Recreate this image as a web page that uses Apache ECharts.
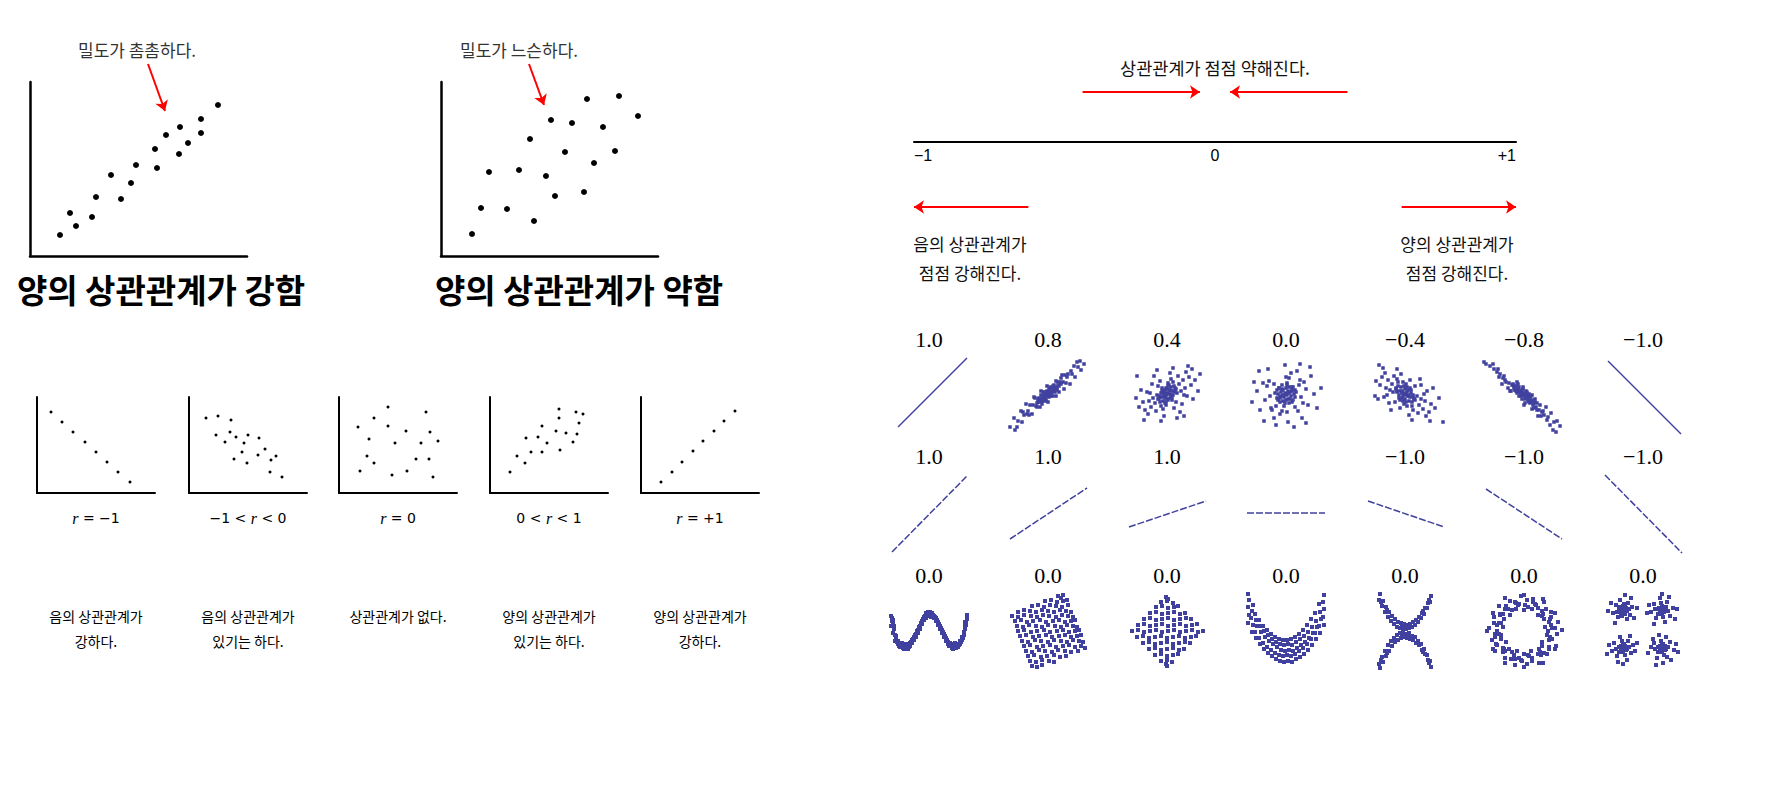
<!DOCTYPE html>
<html><head><meta charset="utf-8">
<script src="https://cdn.jsdelivr.net/npm/echarts@6/dist/echarts.min.js"></script>
<style>html,body{margin:0;padding:0;background:#fff}#c{width:1787px;height:800px}</style>
</head><body><div id="c"></div>
<script>
// ---------- DATA (arbitrary units) ----------
// top-left panels
const strongPoints = [[30,21],[40,43],[46,30],[62,39],[66,59],[81,81],[91,57],[101,73],[106,91],[125,107],[127,88],[136,121],[149,102],[150,129],[158,113],[171,137],[171,123],[188,151]];
const weakPoints = [[31,22],[40,48],[48,84],[66,47],[78,86],[89,117],[93,35],[105,80],[110,136],[114,60],[124,104],[131,133],[143,64],[146,157],[153,93],[162,129],[174,105],[178,160],[197,140]];
const densityArrows = [[[118,192],[135,145]], [[88,192],[103,151]]];
const densityNotes = ['밀도가 촘촘하다.', '밀도가 느슨하다.'];
const bigTitles = ['양의 상관관계가 강함', '양의 상관관계가 약함'];

// five small panels
const negPerfect = [[14,81],[25,71],[36,61],[48,51],[59,41],[70,31],[81,21],[93,11]];
const negPartial = [[17,75],[29,77],[42,73],[27,58],[36,51],[41,61],[47,56],[55,50],[59,58],[70,55],[53,41],[45,34],[58,30],[69,38],[76,44],[82,33],[87,37],[81,21],[93,16]];
const noCorr = [[49,86],[87,81],[35,75],[19,66],[49,67],[67,62],[91,61],[30,54],[56,50],[82,50],[99,52],[28,37],[35,30],[77,34],[90,34],[21,22],[53,18],[68,22],[94,16]];
const posPartial = [[20,21],[27,37],[35,30],[36,55],[41,41],[48,56],[52,67],[52,41],[57,50],[66,62],[69,84],[69,75],[70,43],[76,60],[83,51],[86,81],[89,70],[87,59],[93,79]];
const posPerfect = [[20,11],[31,21],[41,31],[52,42],[62,52],[73,62],[83,72],[94,82]];
const smallLabels = ['{i|r} = −1', '−1 < {i|r} < 0', '{i|r} = 0', '0 < {i|r} < 1', '{i|r} = +1'];
const smallNotes = [['음의 상관관계가','강하다.'],['음의 상관관계가','있기는 하다.'],['상관관계가 없다.'],['양의 상관관계가','있기는 하다.'],['양의 상관관계가','강하다.']];

// number line
const scaleTicks = [-1, 0, 1];
const scaleTickLabels = ['−1', '0', '+1'];
const weakerArrows = [[-0.44,-0.05],[0.44,0.05]];
const strongerArrows = [[-0.62,-1.0],[0.62,1.0]];
const weakerNote = '상관관계가 점점 약해진다.';
const strongerNotes = [['음의 상관관계가','점점 강해진다.'],['양의 상관관계가','점점 강해진다.']];

// correlation grid titles
const corrTitles = [
  ['1.0','0.8','0.4','0.0','−0.4','−0.8','−1.0'],
  ['1.0','1.0','1.0','','−1.0','−1.0','−1.0'],
  ['0.0','0.0','0.0','0.0','0.0','0.0','0.0']
];
// row 1
const linePos1 = [[-31,-33],[38,36]];
const lineNeg1 = [[-35,33],[38,-40]];
const cloudPos08 = [[0,1],[3,0],[-4,-1],[6,6],[-7,-7],[2,7],[-2,-7],[9,4],[-10,-5],[12,12],[-12,-12],[5,-2],[-5,2],[15,12],[-15,-11],[8,13],[-8,-13],[18,11],[-18,-11],[20,20],[-21,-20],[1,-3],[-1,3],[11,2],[-13,-4],[24,20],[-24,-21],[14,19],[-16,-20],[27,17],[-27,-17],[30,27],[-30,-27],[33,24],[-34,-24],[4,6],[-3,-6],[7,5],[-6,-4],[10,12],[-11,-13],[17,19],[-19,-21],[22,10],[-22,-10],[26,28],[-26,-28],[36,30],[-38,-33],[13,10],[-9,-7],[16,5],[-14,-3],[29,32],[-31,-33],[0,-8],[-1,8],[19,17],[-20,-17],[23,23],[-25,-18],[8,-2],[-7,3],[32,33],[-33,-36],[5,6],[-4,-5],[2,2],[-2,-2],[13,16],
  [1,2],[-1,-1],[3,3],[-3,-3],[4,2],[-4,-2],[6,3],[-6,-5],[2,-1],[-2,1],[5,8],[-5,-7],[8,7],[-8,-8],[7,2],[-7,-1],[10,9],[-10,-8],[1,5],[-2,-4],[9,6],[-9,-4],[11,8],[-11,-9],[3,-2],[-3,2],[6,9],[-6,-10]];
const cloudPos04 = [[0,0],[3,4],[-3,-2],[5,-3],[-5,3],[8,6],[-8,-5],[2,9],[-2,-9],[10,1],[-10,-1],[6,12],[-6,-12],[12,10],[-12,-9],[1,-6],[-1,6],[14,3],[-14,-4],[4,15],[-4,-15],[16,14],[-16,-13],[9,-8],[-9,8],[18,6],[-18,-7],[11,18],[-11,-17],[20,-2],[-20,2],[7,-14],[-7,13],[22,17],[-22,-16],[15,-10],[-15,10],[24,9],[-24,-8],[3,21],[-3,-22],[19,22],[-19,-20],[26,-5],[-26,4],[13,-18],[-13,18],[28,14],[-28,-13],[6,26],[-6,-27],[31,3],[-31,-4],[21,28],[-23,-26],[10,-24],[-10,24],[33,20],[-30,18],[17,-22],[-2,2],[4,-1],[-4,1],[7,3],[-7,-3],[1,11],[-1,-11],[-17,1],[17,-1],[25,25],
  [1,1],[-1,-2],[3,0],[-3,1],[2,4],[-2,-4],[5,3],[-5,-3],[0,5],[0,-5],[6,-1],[-6,1],[4,7],[-4,-7],[8,2],[-8,-2],[3,-4],[-3,4],[7,8],[-7,-8],[9,5],[-9,-5],[1,8],[-1,-8],[5,-6],[-5,6]];
const cloudZero = [[0,0],[4,2],[-3,4],[2,-5],[-5,-2],[7,7],[-7,6],[6,-8],[-8,-6],[10,2],[-11,1],[1,11],[-2,-12],[13,9],[-12,10],[9,-13],[-10,-12],[15,-3],[-16,-2],[3,16],[-4,-17],[18,12],[-17,13],[12,-17],[-14,-16],[20,5],[-21,-6],[5,21],[-6,-20],[22,-11],[-23,11],[11,23],[-12,-24],[25,18],[-26,-16],[16,-24],[-18,25],[28,0],[-29,3],[2,-28],[-1,29],[31,-14],[-32,12],[14,30],[-10,-31],[35,6],[-34,-8],[8,-33],[20,-29],[-22,-27],[24,27],[-27,23],[6,5],[-6,-4],[3,-9],[-4,9],[9,-3],[-9,4],[14,14],[-15,-14],[17,-9],[-19,8],[0,17],[1,-18],
  [1,-1],[-1,1],[3,1],[-3,-1],[2,3],[-2,-3],[5,-2],[-5,2],[0,6],[0,-6],[6,3],[-6,-3],[4,-5],[-4,5],[8,0],[-8,0],[3,7],[-3,-7],[7,-6],[-7,6],[9,4],[-9,-4],[1,9],[-1,-9],[6,7],[-6,-8]];
const cloudNeg04 = [[0,0],[-3,3],[4,-2],[6,4],[-6,-4],[9,-5],[-9,6],[1,10],[-1,-10],[12,-2],[-12,2],[7,-12],[-7,12],[14,-11],[-13,10],[-2,-7],[2,7],[16,-5],[-15,4],[5,14],[-5,-14],[18,-15],[-17,14],[10,8],[-10,-8],[20,-7],[-19,6],[13,-19],[-11,18],[22,3],[-21,-3],[8,-16],[-8,15],[24,-18],[-23,17],[16,9],[-16,-9],[26,-10],[-25,9],[-4,20],[4,-21],[21,-22],[-20,21],[28,6],[-27,-5],[15,15],[-14,-16],[30,-14],[-29,13],[-8,25],[7,-26],[34,-4],[-30,-2],[25,-27],[-22,26],[10,-6],[-3,1],[3,-1],[8,-1],[-8,2],[-2,12],[2,-12],[19,0],[-18,-1],[38,-28],[-26,29],
  [1,-1],[-1,1],[3,-2],[-3,2],[2,2],[-2,-2],[5,-3],[-5,3],[0,5],[0,-5],[6,1],[-6,-1],[4,-7],[-4,7],[8,-3],[-8,3],[3,4],[-3,-4],[7,-8],[-7,8],[9,-5],[-9,5],[1,-8],[-1,8],[5,6],[-5,-6]];
const cloudNeg08 = [[0,-1],[3,-4],[-4,2],[6,-6],[-7,5],[2,3],[-2,-5],[9,-11],[-10,6],[12,-13],[-12,9],[5,0],[-5,-2],[15,-16],[-15,11],[8,-1],[-8,3],[18,-18],[-18,12],[20,-21],[-21,16],[1,-9],[-1,5],[11,-5],[-13,3],[24,-23],[-24,20],[14,-22],[-16,6],[27,-19],[-27,22],[30,-28],[-30,25],[33,-27],[-34,28],[4,-7],[-3,1],[7,-8],[-6,3],[10,-14],[-11,10],[17,-22],[-19,14],[22,-13],[-22,10],[26,-31],[-26,25],[36,-32],[-38,30],[13,-9],[-9,4],[16,-11],[-14,3],[29,-36],[-31,30],[0,-11],[-1,7],[19,-17],[-20,18],[23,-26],[-25,17],[8,-15],[-7,12],[32,-38],[-40,32],[5,-6],[-4,3],[2,-2],[-2,0],[13,-16],
  [1,-2],[-1,1],[3,-3],[-3,3],[4,-2],[-4,2],[6,-3],[-6,5],[2,1],[-2,-1],[5,-8],[-5,7],[8,-7],[-8,8],[7,-2],[-7,1],[10,-9],[-10,8],[1,-5],[-2,4],[9,-6],[-9,4],[11,-8],[-11,9],[3,2],[-3,-2],[6,-9],[-6,10]];
// row 2 (exact linear relations, varying slope)
const row2Lines = [
  [[-37,-39],[38,37]], [[-38,-26],[39,25]], [[-38,-14],[39,12]], [[-39,0],[39,0]],
  [[-37,12],[39,-14]], [[-38,24],[38,-26]], [[-38,38],[39,-40]]
];
// row 3 (non-linear shapes)
const sineBand = [[-38,15],[-37,10],[-38,5],[-36,8],[-35,2],[-36,-2],[-34,-4],[-33,-8],[-34,-10],[-32,-11],[-31,-13],[-30,-15],[-29,-13],[-28,-16],[-27,-14],[-26,-17],[-25,-15],[-24,-16],[-23,-14],[-22,-17],[-21,-15],[-20,-13],[-19,-15],[-18,-11],[-17,-12],[-16,-8],[-15,-9],[-14,-4],[-13,-6],[-12,0],[-11,-2],[-10,4],[-9,2],[-8,8],[-7,7],[-6,12],[-5,11],[-4,15],[-3,13],[-2,17],[-1,15],[0,18],[1,16],[2,17],[3,15],[4,16],[5,13],[6,14],[7,10],[8,11],[9,6],[10,7],[11,2],[12,3],[13,-2],[14,-1],[15,-6],[16,-5],[17,-10],[18,-9],[19,-13],[20,-12],[21,-15],[22,-14],[23,-17],[24,-15],[25,-16],[26,-14],[27,-17],[28,-15],[29,-13],[30,-14],[31,-10],[32,-11],[33,-6],[34,-7],[35,-1],[36,2],[37,6],[36,9],[38,12],[38,16],[-27,-12],[-24,-13],[-1,19],[2,14],[24,-18],[26,-12],[-20,-16],[20,-15],[-3,18],[3,18],
  [-37,13],[-35,5],[-33,-5],[-31,-10],[-29,-16],[-27,-16],[-25,-18],[-23,-17],[-21,-18],[-19,-12],[-17,-9],[-15,-6],[-13,-3],[-11,1],[-9,5],[-7,10],[-5,14],[-3,16],[-1,17],[1,19],[3,17],[5,15],[7,13],[9,9],[11,5],[13,1],[15,-3],[17,-7],[19,-11],[21,-12],[23,-14],[25,-13],[27,-14],[29,-16],[31,-13],[33,-9],[35,-4],[37,9],[-36,11],[36,5]];
const tiltedSquare = [[10,35],[15,36],[13,33],[-3,30],[3,31],[9,29],[15,30],[19,31],[-16,25],[-10,26],[-4,24],[2,26],[8,25],[14,24],[20,26],[-30,19],[-24,21],[-18,20],[-12,19],[-6,21],[0,20],[6,19],[12,21],[18,20],[23,19],[-36,15],[-30,14],[-24,16],[-17,15],[-11,14],[-5,16],[1,15],[8,14],[14,16],[20,15],[25,14],[-33,10],[-27,11],[-21,9],[-15,10],[-8,11],[-2,9],[5,10],[11,11],[17,9],[23,10],[27,11],[-31,5],[-25,4],[-19,6],[-12,5],[-6,4],[0,6],[7,5],[13,4],[19,6],[25,5],[29,4],[-30,0],[-24,1],[-17,-1],[-11,0],[-4,1],[2,-1],[9,0],[15,1],[21,-1],[27,0],[31,1],[-28,-5],[-22,-4],[-15,-6],[-9,-5],[-2,-4],[4,-6],[11,-5],[17,-4],[23,-6],[29,-5],[33,-4],[-26,-10],[-20,-11],[-13,-9],[-7,-10],[0,-11],[6,-9],[13,-10],[19,-11],[25,-9],[31,-10],[35,-11],[-24,-15],[-18,-14],[-11,-16],[-5,-15],[2,-14],[8,-16],[15,-15],[21,-14],[27,-16],[33,-15],[37,-17],[-22,-20],[-16,-21],[-9,-19],[-3,-20],[4,-21],[10,-19],[17,-20],[23,-21],[30,-20],[-20,-25],[-14,-24],[-7,-26],[-1,-25],[6,-24],[12,-26],[18,-25],[-18,-30],[-12,-31],[-6,-29],[1,-30],[6,-31],[-16,-35],[-11,-36],[-6,-34]];
const diamond = [[-1,34],[1,32],[-6,29],[0,30],[6,28],[-11,24],[-5,25],[1,23],[7,24],[11,25],[-17,18],[-11,19],[-5,17],[1,18],[7,19],[13,17],[18,18],[-23,12],[-17,13],[-11,11],[-5,12],[1,13],[7,11],[13,12],[19,13],[24,12],[-29,6],[-23,7],[-17,5],[-11,6],[-5,7],[1,5],[7,6],[13,7],[19,5],[25,6],[30,7],[-35,0],[-29,1],[-23,-1],[-17,0],[-11,1],[-5,-1],[1,0],[7,1],[13,-1],[19,0],[25,1],[31,-1],[36,0],[-30,-6],[-24,-5],[-18,-7],[-12,-6],[-6,-5],[0,-7],[6,-6],[12,-5],[18,-7],[24,-6],[29,-5],[-24,-12],[-18,-11],[-12,-13],[-6,-12],[0,-11],[6,-13],[12,-12],[18,-11],[23,-12],[-18,-18],[-12,-17],[-6,-19],[0,-18],[6,-17],[12,-19],[17,-18],[-12,-24],[-6,-23],[0,-25],[6,-24],[11,-23],[-6,-30],[0,-29],[5,-31],[0,-35],[-1,-33]];
const parabolaBand = [[-38,8],[-37,16],[-38,24],[-37,31],[-38,37],[-34,-1],[-33,6],[-35,13],[-34,20],[-33,26],[-30,-7],[-31,-1],[-29,5],[-30,11],[-31,17],[-26,-13],[-27,-7],[-25,-1],[-26,5],[-27,11],[-22,-18],[-23,-12],[-21,-6],[-22,0],[-23,5],[-18,-22],[-19,-16],[-17,-10],[-18,-4],[-19,1],[-14,-25],[-15,-19],[-13,-13],[-14,-8],[-15,-3],[-10,-28],[-11,-22],[-9,-16],[-10,-11],[-11,-6],[-6,-30],[-7,-24],[-5,-19],[-6,-13],[-7,-8],[-2,-31],[-3,-25],[-1,-20],[-2,-14],[-3,-9],[2,-30],[1,-24],[3,-19],[2,-13],[1,-9],[6,-31],[5,-25],[7,-20],[6,-14],[5,-8],[10,-28],[9,-23],[11,-17],[10,-11],[9,-6],[14,-26],[13,-20],[15,-14],[14,-8],[13,-3],[18,-23],[17,-17],[19,-11],[18,-5],[17,1],[22,-19],[21,-13],[23,-7],[22,-1],[21,6],[26,-14],[25,-8],[27,-2],[26,4],[25,12],[30,-8],[29,-2],[31,4],[30,10],[29,18],[34,-2],[33,5],[35,12],[34,19],[33,27],[38,6],[37,14],[38,22],[37,29],[38,36]];
const crossBands = [[-26,31],[-25,37],[-23,25],[-22,30],[-20,19],[-19,24],[-17,14],[-16,19],[-14,10],[-13,15],[-11,7],[-10,12],[-8,4],[-7,9],[-5,3],[-4,8],[-2,2],[-1,7],[1,2],[2,6],[4,3],[5,7],[7,4],[8,9],[10,6],[11,11],[13,9],[14,14],[16,13],[17,18],[19,17],[20,23],[22,23],[23,28],[25,29],[26,35],[-26,-33],[-25,-37],[-23,-26],[-22,-31],[-20,-20],[-19,-25],[-17,-14],[-16,-20],[-14,-10],[-13,-15],[-11,-7],[-10,-11],[-8,-4],[-7,-9],[-5,-2],[-4,-7],[-2,-1],[-1,-6],[1,-3],[2,-7],[4,-2],[5,-8],[7,-5],[8,-9],[10,-6],[11,-12],[13,-10],[14,-14],[16,-13],[17,-19],[19,-18],[20,-23],[22,-24],[23,-29],[25,-30],[26,-36],[-24,29],[24,31],[-18,21],[18,20],[0,5],[-3,5],[3,5],[-24,-29],[24,-32],[-18,-22],[18,-21],[0,-4],[-3,-4],[3,-5]];
const ring = [[24,0],[31,3],[21,4],[34,9],[25,9],[26,12],[20,12],[27,19],[18,15],[22,22],[14,16],[20,29],[14,23],[12,26],[8,22],[9,32],[4,24],[3,31],[0,21],[-3,35],[-5,27],[-8,28],[-8,22],[-14,30],[-12,21],[-18,25],[-14,16],[-25,25],[-21,17],[-24,17],[-20,12],[-30,14],[-23,8],[-30,8],[-21,4],[-35,3],[-27,0],[-29,-3],[-23,-4],[-32,-9],[-23,-8],[-28,-13],[-18,-11],[-29,-20],[-21,-17],[-21,-21],[-15,-18],[-19,-27],[-12,-21],[-13,-28],[-7,-20],[-9,-34],[-5,-27],[-3,-29],[0,-23],[3,-33],[4,-24],[8,-30],[7,-20],[15,-32],[14,-23],[17,-24],[15,-18],[23,-23],[18,-15],[25,-18],[18,-11],[32,-15],[25,-9],[28,-8],[23,-4],[33,-3],[27,6],[19,17],[9,29],[-6,26],[-19,22],[-25,8],[-29,-6],[-20,-18],[-9,-28],[5,-25],[20,-22],[26,-8],[19,32],[-37,0],[19,-32],[-19,33],[-19,-32],[38,1],
  [28,3],[27,14],[18,20],[11,27],[1,26],[-9,29],[-16,22],[-24,16],[-27,6],[-25,-3],[-27,-14],[-19,-20],[-10,-24],[-2,-30],[8,-27],[16,-21],[25,-16],[26,-6],[31,18],[0,36],[-31,18],[-31,-18],[0,-36],[31,-18]];
const fourClusters = [[-20,21],[-17,23],[-23,20],[-18,17],[-24,24],[-14,22],[-26,19],[-19,27],[-21,15],[-13,16],[-27,26],[-15,28],[-25,14],[-11,24],[-30,18],[-16,12],[-23,31],[-9,13],[-32,28],[-6,23],[-35,20],[-12,33],[-28,8],[-18,36],[19,21],[21,19],[16,23],[23,24],[15,17],[25,20],[12,22],[18,28],[20,14],[27,15],[11,27],[24,29],[13,13],[30,23],[8,19],[22,9],[17,33],[32,12],[6,26],[34,22],[4,18],[26,34],[11,7],[19,37],[-20,-17],[-22,-15],[-17,-19],[-19,-13],[-24,-21],[-14,-16],[-27,-18],[-21,-10],[-18,-24],[-12,-22],[-29,-12],[-15,-10],[-26,-25],[-10,-14],[-31,-20],[-23,-6],[-16,-29],[-8,-20],[-34,-14],[-20,-33],[-6,-12],[-36,-23],[-13,-5],[-25,-31],[19,-17],[17,-15],[22,-19],[20,-13],[15,-21],[25,-16],[12,-18],[18,-10],[21,-24],[27,-11],[11,-12],[24,-26],[14,-27],[31,-19],[8,-16],[16,-4],[20,-32],[33,-13],[5,-22],[28,-29],[10,-8],[35,-21],[23,-6],[13,-34],
  [-21,22],[-19,20],[-22,18],[-18,24],[-16,20],[-24,21],[-20,25],[-20,17],[18,22],[20,20],[17,19],[22,23],[23,20],[15,22],[19,25],[19,17],[-21,-16],[-19,-18],[-22,-19],[-18,-15],[-16,-18],[-24,-16],[-20,-13],[-20,-21],[18,-16],[20,-18],[17,-19],[22,-15],[23,-18],[15,-16],[19,-13],[19,-21]];

// ---------- LAYOUT & STYLE ----------
const KR = "'Noto Sans CJK KR', sans-serif";
const SERIF = "'Liberation Serif', 'DejaVu Serif', serif";
const DOT = '#40409f';
const RED = '#ff0000';

const opt = {animation:false, backgroundColor:'#ffffff', grid:[], xAxis:[], yAxis:[], series:[], graphic:{elements:[]}};

function addGrid(box, xr, yr, axisW){
  const i = opt.grid.length;
  opt.grid.push({left:box[0], top:box[1], width:box[2], height:box[3]});
  const ax = (r) => ({type:'value', gridIndex:i, min:r[0], max:r[1], show: axisW > 0,
    axisLine:{show: axisW > 0, onZero:false, lineStyle:{color:'#000', width:axisW || 1}},
    axisTick:{show:false}, axisLabel:{show:false}, splitLine:{show:false}});
  opt.xAxis.push(ax(xr)); opt.yAxis.push(ax(yr));
  return i;
}
function scatter(i, data, size, color, symbol){
  opt.series.push({type:'scatter', xAxisIndex:i, yAxisIndex:i, data, symbol: symbol || 'circle',
    symbolSize:size, itemStyle:{color, opacity:1}, clip:false, silent:true});
}
function segLine(i, data, width, dashed){
  opt.series.push({type:'line', xAxisIndex:i, yAxisIndex:i, data, symbol:'none', showSymbol:false, silent:true, clip:false,
    lineStyle:{color:DOT, width, type: dashed ? [7,2] : 'solid'}});
}
function arrows(i, segs){
  opt.series.push({type:'lines', coordinateSystem:'cartesian2d', xAxisIndex:i, yAxisIndex:i, clip:false, silent:true,
    symbol:['none','arrow'], symbolSize:10, lineStyle:{color:RED, width:2, opacity:1, curveness:0},
    data: segs.map(s => ({coords:s}))});
}
function txt(x, y, text, size, family, extra){
  opt.graphic.elements.push({type:'text', x, y, silent:true,
    style:Object.assign({text, fontSize:size, fontFamily:family, fill:'#000', align:'center', verticalAlign:'middle'}, extra || {})});
}

// top-left two panels
[[30, strongPoints, 161, 137], [441, weakPoints, 579, 519]].forEach((p, k) => {
  const g = addGrid([p[0], 82, 217, 174], [0,217], [0,174], 2.5);
  scatter(g, p[1], 6, '#000');
  arrows(g, [densityArrows[k]]);
  txt(p[3], 49, densityNotes[k], 17, KR, {fill:'#333'});
  txt(p[2], 289, bigTitles[k], 33, KR, {fontWeight:'bold'});
});

// five small panels
const smallLeft = [37, 189, 339, 490, 641];
[negPerfect, negPartial, noCorr, posPartial, posPerfect].forEach((pts, k) => {
  const g = addGrid([smallLeft[k], 397, 118, 96], [0,118], [0,96], 2);
  scatter(g, pts, 3, '#000');
  const cx = smallLeft[k] + 59;
  txt(cx, 518, smallLabels[k], 14, "'DejaVu Sans', sans-serif",
      {rich:{i:{fontStyle:'italic', fontFamily:SERIF, fontSize:16}}});
  smallNotes[k].forEach((line, j) => txt(cx, 616 + j*25, line, 14, KR));
});

// number line (axis line sits on the grid bottom; arrows above and below it)
{
  const i = opt.grid.length;
  opt.grid.push({left:914, top:92, width:602, height:50});
  opt.xAxis.push({type:'value', gridIndex:i, min:scaleTicks[0], max:scaleTicks[2], interval:1, position:'bottom',
    axisLine:{show:true, onZero:false, lineStyle:{color:'#000', width:2}},
    axisTick:{show:false}, splitLine:{show:false},
    axisLabel:{show:true, margin:5, fontSize:16, color:'#000', fontFamily:"'Liberation Sans', sans-serif",
      alignMinLabel:'left', alignMaxLabel:'right', showMinLabel:true, showMaxLabel:true,
      formatter: v => scaleTickLabels[scaleTicks.indexOf(v)]}});
  opt.yAxis.push({type:'value', gridIndex:i, min:0, max:50, show:false});
  arrows(i, weakerArrows.map(a => [[a[0],50],[a[1],50]]));
  arrows(i, strongerArrows.map(a => [[a[0],-65],[a[1],-65]]));
  txt(1215, 67, weakerNote, 17.5, KR, {fill:'#111'});
  strongerNotes[0].forEach((l, j) => txt(970, 243 + j*29, l, 17, KR, {fill:'#111'}));
  strongerNotes[1].forEach((l, j) => txt(1457, 243 + j*29, l, 17, KR, {fill:'#111'}));
}

// correlation examples grid
const colCenters = [929, 1048, 1167, 1286, 1405, 1524, 1643];
const rowCenters = [394, 513, 631];
const titleY = [339, 456, 575];
const rows = [
  [{line:linePos1}, {pts:cloudPos08}, {pts:cloudPos04}, {pts:cloudZero}, {pts:cloudNeg04}, {pts:cloudNeg08}, {line:lineNeg1}],
  row2Lines.map(l => ({line:l, dashed:true})),
  [sineBand, tiltedSquare, diamond, parabolaBand, crossBands, ring, fourClusters].map(p => ({pts:p, big:true}))
];
rows.forEach((row, r) => row.forEach((cell, c) => {
  const g = addGrid([colCenters[c]-40, rowCenters[r]-40, 80, 80], [-40,40], [-40,40], 0);
  if (cell.line) segLine(g, cell.line, 1.5, cell.dashed);
  else scatter(g, cell.pts, cell.big ? 4 : 3.5, DOT, 'rect');
  if (corrTitles[r][c]) txt(colCenters[c], titleY[r], corrTitles[r][c], 22, SERIF);
}));

const chart = echarts.init(document.getElementById('c'), null, {renderer:'svg', width:1787, height:800});
chart.setOption(opt);
</script></body></html>
